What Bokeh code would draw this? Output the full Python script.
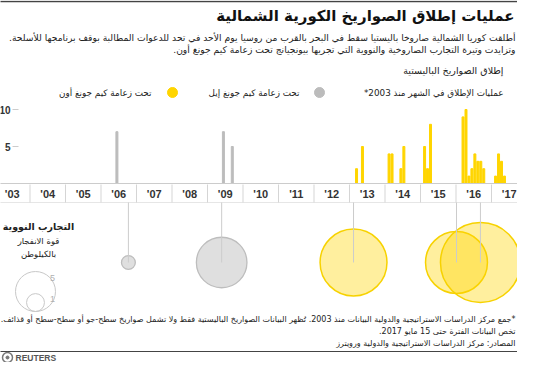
import math
from bokeh.plotting import figure
from bokeh.models import Range1d, Label
from bokeh.core.properties import value
from bokeh.embed import file_html
from bokeh.resources import INLINE

# ---------------- data ----------------
years = list(range(2003, 2018))
year_labels = ["'03", "'04", "'05", "'06", "'07", "'08", "'09", "'10",
               "'11", "'12", "'13", "'14", "'15", "'16", "'17"]
y_ticks = [5, 10]
y_tick_labels = ["5", "10"]

# monthly ballistic missile launches, Kim Jong Il era
il_year = [2006, 2009, 2009]
il_month = [6, 6, 9]
il_count = [7, 7, 5]

# monthly ballistic missile launches, Kim Jong Un era
un_year = [2013, 2013, 2014, 2014, 2014, 2014, 2015, 2015, 2015,
           2016, 2016, 2016, 2016, 2016, 2016, 2016, 2016,
           2017, 2017, 2017, 2017]
un_month = [3, 5, 2, 3, 6, 7, 2, 3, 4,
            3, 4, 5, 6, 7, 8, 9, 10,
            2, 3, 4, 5]
un_count = [2, 5, 4, 4, 2, 5, 5, 2, 8,
            9, 10, 1, 2, 4, 3, 3, 2,
            1, 4, 3, 1]

# nuclear tests (yield in kilotons)
nuke_date = ["2006-10-09", "2009-05-25", "2013-02-12", "2016-01-06", "2016-09-09"]
nuke_kt = [0.6, 8, 14, 12, 20]
nuke_leader = ["il", "il", "un", "un", "un"]
size_legend_kt = [5, 1]
size_legend_labels = ["5", "1"]

# ---------------- layout helpers (figure pixels) ----------------
W, H = 517, 362
PX_YEAR = 35.5      # pixels per year
PX_UNIT = 7.4       # pixels per launch
OX = 6              # horizontal shift of the year scale
BASE = 183          # baseline (figure px from top)
AR = "DejaVu Sans"
LAT = "Liberation Sans"
GRAY_BAR = "#bcbcbc"
YEL = "#FFD500"
RLM = "\u200f"


def X(fx):
    return 2003 + (fx + OX) / PX_YEAR


def Y(fy):
    return (BASE - fy) / PX_UNIT


def month_x(y, m):
    return y + (m - 1 + 0.38) / 12.0


def date_x(s):
    y, m, d = (int(t) for t in s.split("-"))
    return y + (m - 1) / 12.0 + (d - 1) / 365.0


p = figure(width=W, height=H, x_range=Range1d(X(0), X(W)),
           y_range=Range1d(Y(H), Y(0)), output_backend="svg",
           toolbar_location=None, x_axis_location=None, y_axis_location=None,
           min_border=0)
p.xgrid.visible = False
p.ygrid.visible = False
p.outline_line_color = None
p.background_fill_color = "white"


def L(text, fx, fy, size, bold=False, align="right", color="#222222", font=AR):
    p.add_layout(Label(x=fx, y=H - fy, x_units="screen", y_units="screen",
                       text=text, text_font=font, text_font_size=f"{size}px",
                       text_font_style="bold" if bold else "normal",
                       text_align=align, text_baseline="middle", text_color=color))


# ---------------- header ----------------
p.segment(x0=[X(-10)], y0=[Y(1)], x1=[X(W + 10)], y1=[Y(1)], line_color="#444444", line_width=1.5)
L("عمليات إطلاق الصواريخ الكورية الشمالية", 514, 15, 15, bold=True, color="#111111")
L(RLM + "أطلقت كوريا الشمالية صاروخا باليستيا سقط في البحر بالقرب من روسيا يوم الأحد في تحد للدعوات المطالبة بوقف برنامجها للأسلحة." + RLM,
  515, 37, 9.2)
L(RLM + "وتزايدت وتيرة التجارب الصاروخية والنووية التي تجريها بيونجيانج تحت زعامة كيم جونغ أون." + RLM,
  515, 49, 9.2)

L("إطلاق الصواريخ الباليستية", 503, 70, 9.5, color="#222222")
L(RLM + "عمليات الإطلاق في الشهر منذ 2003*" + RLM, 503, 92, 8.8, color="#222222")
p.scatter(x=[X(319)], y=[Y(92)], size=10, color=GRAY_BAR)
L("تحت زعامة كيم جونغ إيل", 299, 92, 8.8, color="#222222")
p.scatter(x=[X(172)], y=[Y(92)], size=10, color=YEL)
L("تحت زعامة كيم جونغ أون", 151, 92, 8.8, color="#222222")

# ---------------- bar chart ----------------
p.segment(x0=[X(12)] * len(y_ticks), y0=y_ticks, x1=[X(18)] * len(y_ticks), y1=y_ticks,
          line_color="#cccccc", line_width=1)
p.text(x=[X(10)] * len(y_ticks), y=y_ticks, text=y_tick_labels, text_font=value(LAT),
       text_font_size="10px", text_font_style="bold", text_align="right",
       text_baseline="middle", text_color="#333333")

p.vbar(x=[month_x(y, m) for y, m in zip(il_year, il_month)], top=il_count, bottom=0,
       width=0.056, color=GRAY_BAR)
p.vbar(x=[month_x(y, m) for y, m in zip(un_year, un_month)], top=un_count, bottom=0,
       width=0.056, color=YEL)

# axis band
p.segment(x0=[2002], y0=[0], x1=[2019], y1=[0], line_color="#cccccc", line_width=1)
p.segment(x0=[2002], y0=[Y(202)], x1=[2019], y1=[Y(202)], line_color="#e6e6e6", line_width=1)
p.segment(x0=years[1:], y0=[Y(184)] * (len(years) - 1), x1=years[1:],
          y1=[Y(202)] * (len(years) - 1), line_color="#d5d5d5", line_width=1)
p.text(x=[y + 0.5 for y in years], y=[Y(193)] * len(years), text=year_labels,
       text_font=value(LAT), text_font_size="11px", text_font_style="bold",
       text_align="center", text_baseline="middle", text_color="#333333")

# ---------------- nuclear tests ----------------
R1 = 8.94  # radius (px) of a 1 kt bubble
nx = [date_x(d) for d in nuke_date]
ns = [2 * R1 * math.sqrt(k) for k in nuke_kt]
row = Y(262)
il_idx = [i for i, l in enumerate(nuke_leader) if l == "il"]
un_idx = [i for i, l in enumerate(nuke_leader) if l == "un"]
p.scatter(x=[nx[i] for i in il_idx], y=[row] * len(il_idx), size=[ns[i] for i in il_idx],
          fill_color="#dcdcdc", fill_alpha=0.9, line_color="#bdbdbd", line_width=1.3)
p.scatter(x=[nx[i] for i in un_idx], y=[row] * len(un_idx), size=[ns[i] for i in un_idx],
          fill_color=YEL, fill_alpha=0.38, line_color="#F7D200", line_width=1.5)
p.segment(x0=nx, y0=[Y(202)] * len(nx), x1=nx, y1=[row] * len(nx),
          line_color="#cccccc", line_width=1)

# size legend
L("التجارب النووية", 38, 226, 9.5, bold=True, align="center", color="#222222")
L("قوة الانفجار", 38, 240, 8.5, align="center", color="#222222")
L("بالكيلوطن", 38, 253, 8.5, align="center", color="#222222")
leg_bottom = 311
leg_cx = 35
leg_sizes = [2 * R1 * math.sqrt(k) for k in size_legend_kt]
p.scatter(x=[X(leg_cx)] * 2, y=[Y(leg_bottom - s / 2) for s in leg_sizes], size=leg_sizes,
          fill_color=None, line_color="#c8c8c8", line_width=1)
for lab, s in zip(size_legend_labels, leg_sizes):
    L(lab, leg_cx + 17, leg_bottom - s + 6 if lab == "5" else leg_bottom - s + 5, 9,
      align="center", color="#b0b0b0", font=LAT)

# ---------------- footer ----------------
L(RLM + "*جمع مركز الدراسات الاستراتيجية والدولية البيانات منذ 2003. تُظهر البيانات الصواريخ الباليستية فقط ولا تشمل صواريخ سطح-جو أو سطح-سطح أو قذائف." + RLM,
  515, 319, 8.0)
L(RLM + "تخص البيانات الفترة حتى 15 مايو 2017." + RLM, 515, 331, 8.0)
L("المصادر: مركز الدراسات الاستراتيجية والدولية ورويترز", 515, 343, 8.0)
p.segment(x0=[X(-10)], y0=[Y(351)], x1=[X(W + 10)], y1=[Y(351)], line_color="#444444", line_width=1.2)
p.scatter(x=[X(7)], y=[Y(357)], size=10, fill_color=None, line_color="#777777", line_width=1.5)
p.scatter(x=[X(7)], y=[Y(357)], size=3, color="#777777")
L("REUTERS", 15, 357, 8.5, bold=True, align="left", color="#555555", font=LAT)

open("out.html", "w").write(file_html(p, INLINE))
